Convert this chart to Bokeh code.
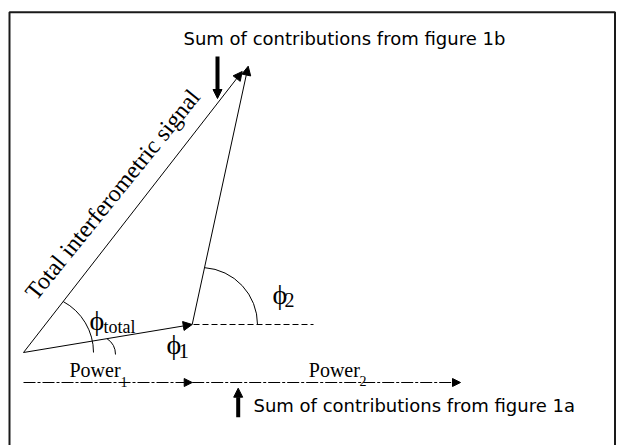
import math
from bokeh.plotting import figure
from bokeh.models import Range1d, Arrow, NormalHead, Label
from bokeh.embed import file_html
from bokeh.resources import INLINE

# ---- diagram data (units ~ pixels, origin = tail of the phi1 vector, y up) ----
phi1_start = (0.0, 0.0)
phi1_end = (168.7, 28.0)
phi2_start = (168.7, 28.0)
phi2_end = (224.7, 286.3)
total_start = (0.0, 0.0)
total_end = (218.7, 281.0)
ref_line_x = [170.0, 290.0]          # dashed horizontal reference at phi2 start
ref_line_y = 28.0
power_y = -30.0
power1_x = [0.0, 168.7]
power2_x = [168.7, 437.0]

# angle arcs: centre x, centre y, radius
arc_cx = [12.0, 73.0, 177.0]
arc_cy = [0.0, -2.0, 28.0]
arc_r = [58.0, 19.0, 57.0]

# annotation arrows (bold)
bold_down = (194.0, 296.0, 194.0, 254.0)
bold_up = (214.7, -64.7, 214.7, -35.7)

title_top = "Sum of contributions from figure 1b"
title_bottom = "Sum of contributions from figure 1a"
total_label = "Total interferometric signal"
phi = "\u03d5"

p = figure(width=620, height=445, output_backend="svg", toolbar_location=None,
           x_range=Range1d(-23, 597), y_range=Range1d(-93, 352),
           x_axis_type=None, y_axis_type=None, min_border=0)
p.grid.visible = False
p.outline_line_color = None
p.background_fill_color = "white"
p.border_fill_color = "white"

# frame
p.line([-14, -14, 591.5, 591.5], [-93, 340.3, 340.3, -93], line_color="#1a1a1a", line_width=2)

def head(size):
    return NormalHead(size=size, fill_color="black", line_color="black", line_width=1)

# vectors
for (s, e) in [(phi1_start, phi1_end), (phi2_start, phi2_end), (total_start, total_end)]:
    p.add_layout(Arrow(x_start=s[0], y_start=s[1], x_end=e[0], y_end=e[1],
                       line_color="black", line_width=1, end=head(9)))

# dashed reference
p.line(ref_line_x, [ref_line_y, ref_line_y], line_color="black", line_width=1, line_dash="6 3")

# power arrows
for xs in (power1_x, power2_x):
    p.add_layout(Arrow(x_start=xs[0], y_start=power_y, x_end=xs[1], y_end=power_y,
                       line_color="black", line_width=1, line_dash="12 2 3 2", end=head(8)))

# arcs
def end_angle(cx, cy, r, p0, p1):
    dx, dy = p1[0] - p0[0], p1[1] - p0[1]
    L = math.hypot(dx, dy)
    dx, dy = dx / L, dy / L
    ox, oy = p0[0] - cx, p0[1] - cy
    b = ox * dx + oy * dy
    c = ox * ox + oy * oy - r * r
    t = -b + math.sqrt(max(b * b - c, 0))
    px, py = p0[0] + t * dx, p0[1] + t * dy
    return math.atan2(py - cy, px - cx)

vecs = [(total_start, total_end), (phi1_start, phi1_end), (phi2_start, phi2_end)]
for cx, cy, r, (v0, v1) in zip(arc_cx, arc_cy, arc_r, vecs):
    a1 = end_angle(cx, cy, r, v0, v1)
    p.arc(x=[cx], y=[cy], radius=r, start_angle=0.0, end_angle=a1,
          line_color="black", line_width=1)

# bold arrows
for (x0, y0, x1, y1) in (bold_down, bold_up):
    p.add_layout(Arrow(x_start=x0, y_start=y0, x_end=x1, y_end=y1,
                       line_color="black", line_width=4, end=head(9)))

serif = "Liberation Serif"
sans = "DejaVu Sans"
dy = 7.0  # label baseline correction

def lab(x, y, text, font, size, **kw):
    p.add_layout(Label(x=x, y=y + dy, text=text, text_font=font, text_font_size=size,
                       text_color="black", text_baseline=kw.pop("baseline", "alphabetic"),
                       text_align=kw.pop("align", "left"), **kw))

lab(160, 307, title_top, sans, "18px")
lab(230, -59.7, title_bottom, sans, "18px")

lab(89, 151, total_label, serif, "24px", angle=math.radians(51), align="center", baseline="middle")

lab(46, -24.7, "Power", serif, "20px")
lab(97, -36, "1", serif, "14px")
lab(285.3, -24.7, "Power", serif, "20px")
lab(336, -35, "2", serif, "14px")

lab(66, 25, phi, serif, "28px")
lab(80, 19, "total", serif, "18px")
lab(143, 1.5, phi, serif, "28px")
lab(155, -5, "1", serif, "21px")
lab(249, 51.5, phi, serif, "28px")
lab(261, 45.3, "2", serif, "20px")

open("out.html", "w").write(file_html(p, INLINE))
